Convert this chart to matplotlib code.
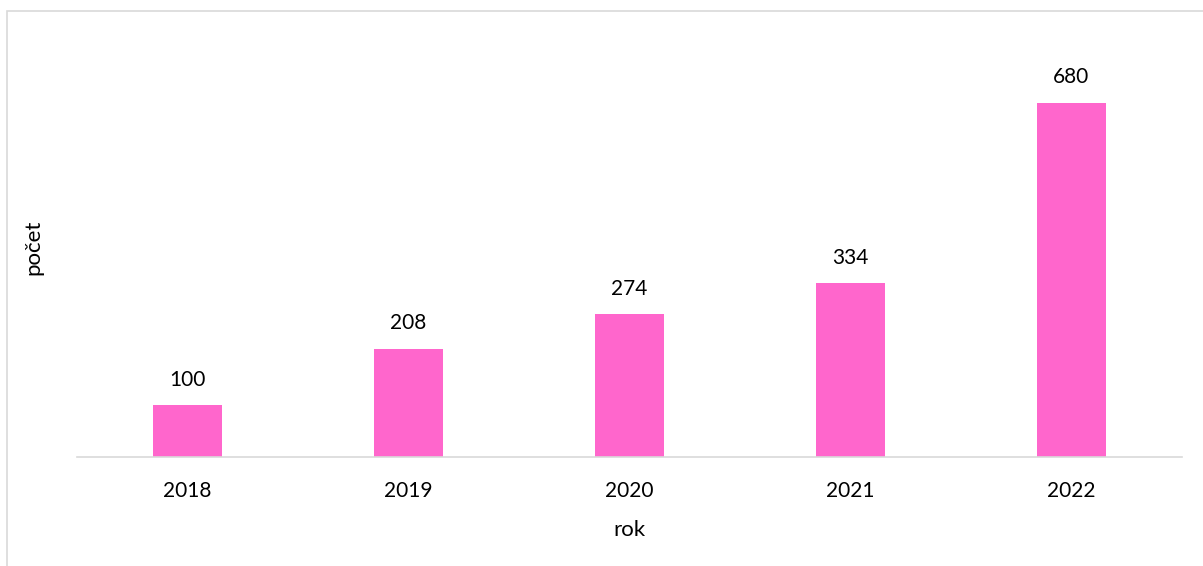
import matplotlib
matplotlib.use("Agg")
import matplotlib.pyplot as plt
from matplotlib.patches import Rectangle

years = ["2018", "2019", "2020", "2021", "2022"]
counts = [100, 208, 274, 334, 680]
bar_color = "#FF66CC"
x_label = "rok"
y_label = "počet"

plt.rcParams['font.family'] = ['Lato', 'DejaVu Sans']

fig = plt.figure(figsize=(12.03, 5.66), dpi=100)
ax = fig.add_axes([77/1203, 1 - 457/566, (1182-77)/1203, (457-40)/566])

x = range(len(years))
bars = ax.bar(x, counts, width=0.312, color=bar_color, zorder=2)
ax.set_xlim(-0.5, len(years) - 0.5)
ax.set_ylim(0, 800)

for xi, v in zip(x, counts):
    ax.annotate(str(v), (xi, v), xytext=(0, 11), textcoords="offset points",
                ha="center", va="bottom", fontsize=15, color="black")

ax.set_xticks(list(x))
ax.set_xticklabels(years, fontsize=15)
ax.tick_params(axis="x", length=0, pad=17)
ax.set_yticks([])
for s in ["top", "right", "left"]:
    ax.spines[s].set_visible(False)
ax.spines["bottom"].set_color("#D9D9D9")
ax.spines["bottom"].set_linewidth(1.2)

ax.set_xlabel(x_label, fontsize=16, labelpad=14)
fig.text(33/1203, 1 - 247/566, y_label, rotation=90, ha="center", va="center", fontsize=16)

border = Rectangle((6.5/1203, -0.1), 1.2, 1 - 10.5/566 + 0.1, transform=fig.transFigure,
                   fill=False, edgecolor="#D9D9D9", linewidth=1.2)
fig.patches.append(border)

fig.savefig("out.png", dpi=100, facecolor="white")
